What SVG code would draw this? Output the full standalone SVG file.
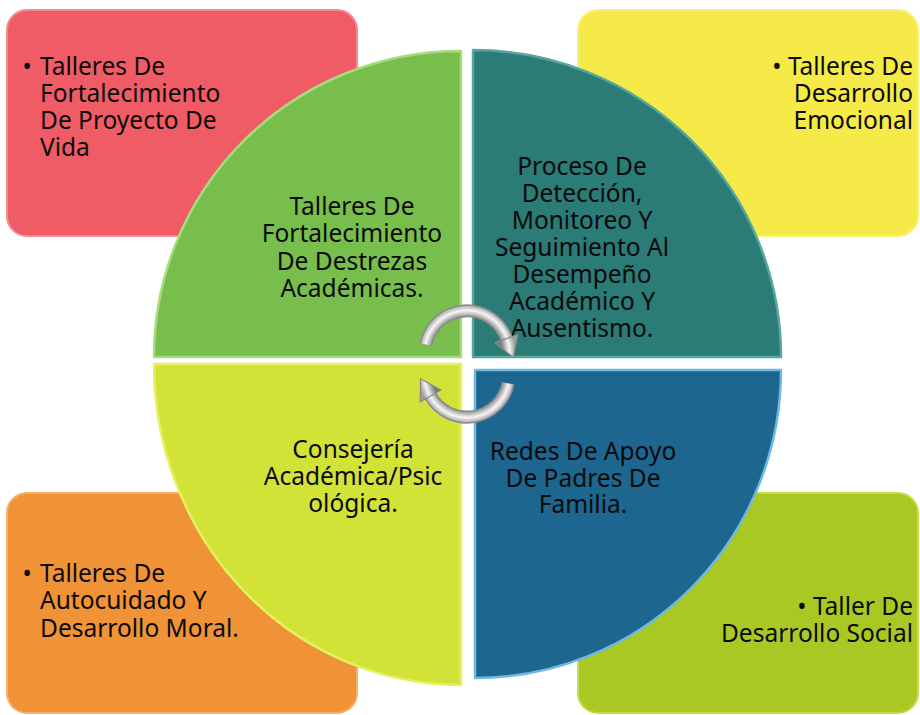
<svg xmlns="http://www.w3.org/2000/svg" width="920" height="715" viewBox="0 0 920 715">
<style>
.t{font-family:"Noto Sans","DejaVu Sans",sans-serif;font-size:24.5px;fill:#0a0a0a}
.c{text-anchor:middle}
.e{text-anchor:end}
.box{stroke-width:2}
.q{stroke-width:2.5;stroke-linejoin:round}
.arcD{fill:none;stroke:#8a8a8a;stroke-width:13}
.arcL{fill:none;stroke-width:10}
.head{stroke:#8a8a8a;stroke-width:1.3;stroke-linejoin:round}
</style>
<defs>
<radialGradient id="gTop" gradientUnits="userSpaceOnUse" cx="467" cy="353" r="50">
<stop offset="0.70" stop-color="#7a7a7a"/>
<stop offset="0.85" stop-color="#f6f6f6"/>
<stop offset="0.97" stop-color="#9c9c9c"/>
</radialGradient>
<radialGradient id="gBot" gradientUnits="userSpaceOnUse" cx="467" cy="375" r="50">
<stop offset="0.70" stop-color="#7a7a7a"/>
<stop offset="0.85" stop-color="#f6f6f6"/>
<stop offset="0.97" stop-color="#9c9c9c"/>
</radialGradient>
</defs>
<rect width="920" height="715" fill="#ffffff"/>

<g id="box-proyecto-vida">
<rect class="box" x="7" y="10" width="350" height="226" rx="20" fill="#f05c66" stroke="#f58a90"/>
<text class="t" x="27" y="75" text-anchor="middle">•</text>
<text class="t" x="40" y="75">Talleres De</text>
<text class="t" x="40" y="102">Fortalecimiento</text>
<text class="t" x="40" y="129">De Proyecto De</text>
<text class="t" x="40" y="156">Vida</text>
</g>

<g id="box-desarrollo-emocional">
<rect class="box" x="578" y="10" width="340" height="226" rx="20" fill="#f5ea47" stroke="#f8f07a"/>
<text class="t e" x="913" y="75">• Talleres De</text>
<text class="t e" x="913" y="102">Desarrollo</text>
<text class="t e" x="913" y="129">Emocional</text>
</g>

<g id="box-autocuidado">
<rect class="box" x="7" y="493" width="350" height="220" rx="20" fill="#f09236" stroke="#f5b06a"/>
<text class="t" x="27" y="582" text-anchor="middle">•</text>
<text class="t" x="40" y="582">Talleres De</text>
<text class="t" x="40" y="609">Autocuidado Y</text>
<text class="t" x="40" y="637">Desarrollo Moral.</text>
</g>

<g id="box-desarrollo-social">
<rect class="box" x="578" y="493" width="340" height="220" rx="20" fill="#a9c824" stroke="#c3dd4e"/>
<text class="t e" x="913" y="615">• Taller De</text>
<text class="t e" x="913" y="642">Desarrollo Social</text>
</g>

<g id="q-destrezas">
<path class="q" d="M461,357 L154,357 A307,306 0 0 1 461,51 Z" fill="#78be4c" stroke="#a6dc7e"/>
<text class="t c" x="352" y="215">Talleres De</text>
<text class="t c" x="352" y="242">Fortalecimiento</text>
<text class="t c" x="352" y="270">De Destrezas</text>
<text class="t c" x="352" y="297">Académicas.</text>
</g>

<g id="q-deteccion">
<path class="q" d="M473,357 L473,50 A308,307 0 0 1 781,357 Z" fill="#2b7b76" stroke="#56a7a0"/>
<text class="t c" x="582" y="175">Proceso De</text>
<text class="t c" x="582" y="202">Detección,</text>
<text class="t c" x="582" y="229">Monitoreo Y</text>
<text class="t c" x="582" y="256">Seguimiento Al</text>
<text class="t c" x="582" y="283">Desempeño</text>
<text class="t c" x="582" y="310">Académico Y</text>
<text class="t c" x="582" y="337">Ausentismo.</text>
</g>

<g id="q-consejeria">
<path class="q" d="M461,364 L461,685 A307,321 0 0 1 154,364 Z" fill="#d3e236" stroke="#e6f060"/>
<text class="t c" x="353" y="458">Consejería</text>
<text class="t c" x="353" y="485">Académica/Psic</text>
<text class="t c" x="353" y="512">ológica.</text>
</g>

<g id="q-redes">
<path class="q" d="M475,370 L781,370 A306,308 0 0 1 475,678 Z" fill="#1d6690" stroke="#6fb8e0"/>
<text class="t c" x="583" y="460">Redes De Apoyo</text>
<text class="t c" x="583" y="487">De Padres De</text>
<text class="t c" x="583" y="513">Familia.</text>
</g>

<g id="connectors">
<path class="arcD" d="M425.8,344.6 A42,42 0 0 1 506.5,338.6"/>
<path class="arcL" d="M425.8,344.6 A42,42 0 0 1 506.5,338.6" stroke="url(#gTop)"/>
<polygon class="head" points="517.8,334.5 513.3,357.4 495.2,342.7" fill="url(#gTop)"/>
<path class="arcD" d="M508.2,383.4 A42,42 0 0 1 430.6,396"/>
<path class="arcL" d="M508.2,383.4 A42,42 0 0 1 430.6,396" stroke="url(#gBot)"/>
<polygon class="head" points="420.2,402 420.6,378.7 441,390" fill="url(#gBot)"/>
</g>
</svg>
